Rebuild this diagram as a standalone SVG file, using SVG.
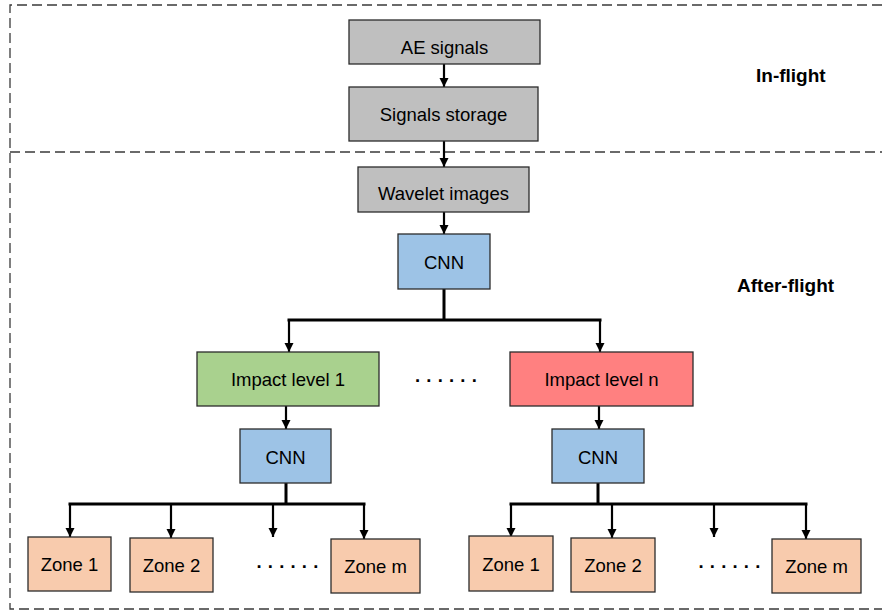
<svg xmlns="http://www.w3.org/2000/svg" width="882" height="612" viewBox="0 0 882 612">
<defs>
<style>
.box{stroke:#2b2b2b;stroke-width:1.3}
.gray{fill:#bfbfbf}
.blue{fill:#9dc3e6}
.green{fill:#a9d18e}
.red{fill:#ff8080}
.peach{fill:#f8cbad}
.t{font-family:"Liberation Sans",Arial,sans-serif;font-size:18.5px;fill:#000;text-anchor:middle}
.lbl{font-family:"Liberation Sans",Arial,sans-serif;font-size:19px;font-weight:bold;fill:#000}
.dots{font-family:"Liberation Sans",Arial,sans-serif;font-size:18.5px;font-weight:bold;fill:#000;letter-spacing:6.2px}
.border{fill:none;stroke:#3a3a3a;stroke-width:1.3;stroke-dasharray:10 5}
.ca{fill:none;stroke:#000;stroke-width:2.2;marker-end:url(#ah)}
.bus{fill:none;stroke:#000;stroke-width:3}
</style>
<marker id="ah" markerUnits="userSpaceOnUse" markerWidth="10" markerHeight="10" refX="9" refY="4.5" orient="auto">
<path d="M0,0 L9,4.5 L0,9 z" fill="#000"/>
</marker>
</defs>
<rect width="882" height="612" fill="#fff"/>
<g id="frame">
<path class="border" d="M882,5 H10 V609 H882"/>
<path class="border" d="M10,152 H882"/>
</g>
<g id="connectors">
<line class="ca" x1="444" y1="64" x2="444" y2="87"/>
<line class="ca" x1="444" y1="141" x2="444" y2="167"/>
<line class="ca" x1="444" y1="212" x2="444" y2="234"/>
<path class="bus" d="M444,289 V320 M287.5,320 H601.5"/>
<line class="ca" x1="289" y1="320" x2="289" y2="352"/>
<line class="ca" x1="600" y1="320" x2="600" y2="352"/>
<line class="ca" x1="286" y1="406" x2="286" y2="429"/>
<line class="ca" x1="599" y1="406" x2="599" y2="429"/>
<path class="bus" d="M286,483 V504 M68.5,504 H365.5"/>
<line class="ca" x1="70" y1="504" x2="70" y2="537"/>
<line class="ca" x1="171" y1="504" x2="171" y2="538"/>
<line class="ca" x1="273" y1="504" x2="273" y2="537"/>
<line class="ca" x1="364" y1="504" x2="364" y2="539"/>
<path class="bus" d="M598,483 V504 M509.5,504 H807.5"/>
<line class="ca" x1="511" y1="504" x2="511" y2="537"/>
<line class="ca" x1="612" y1="504" x2="612" y2="538"/>
<line class="ca" x1="714" y1="504" x2="714" y2="537"/>
<line class="ca" x1="806" y1="504" x2="806" y2="539"/>
</g>
<g id="ae-signals"><rect class="box gray" x="349" y="20" width="191" height="44"/><text class="t" x="444.5" y="54">AE signals</text></g>
<g id="signals-storage"><rect class="box gray" x="349" y="87" width="189" height="54"/><text class="t" x="443.5" y="120.5">Signals storage</text></g>
<g id="wavelet-images"><rect class="box gray" x="358" y="167" width="171" height="45"/><text class="t" x="443.5" y="200">Wavelet images</text></g>
<g id="cnn-top"><rect class="box blue" x="398" y="234" width="92" height="55"/><text class="t" x="444" y="269">CNN</text></g>
<g id="impact-1"><rect class="box green" x="197" y="352" width="182" height="54"/><text class="t" x="288" y="385.7">Impact level 1</text></g>
<g id="impact-n"><rect class="box red" x="510" y="352" width="183" height="54"/><text class="t" x="601.5" y="385.7">Impact level n</text></g>
<g id="dots-mid"><text class="dots" x="415" y="382">......</text></g>
<g id="cnn-left"><rect class="box blue" x="240" y="429" width="91" height="54"/><text class="t" x="285.5" y="464">CNN</text></g>
<g id="cnn-right"><rect class="box blue" x="552" y="429" width="92" height="54"/><text class="t" x="598" y="464">CNN</text></g>
<g id="zone1-left"><rect class="box peach" x="28" y="537" width="83" height="54"/><text class="t" x="69.5" y="570.7">Zone 1</text></g>
<g id="zone2-left"><rect class="box peach" x="130" y="538" width="83" height="54"/><text class="t" x="171.5" y="571.7">Zone 2</text></g>
<g id="dots-left"><text class="dots" x="256.5" y="567.5">......</text></g>
<g id="zonem-left"><rect class="box peach" x="331" y="539" width="89" height="54"/><text class="t" x="375.5" y="572.7">Zone m</text></g>
<g id="zone1-right"><rect class="box peach" x="469" y="536" width="84" height="55"/><text class="t" x="511" y="570.7">Zone 1</text></g>
<g id="zone2-right"><rect class="box peach" x="571" y="538" width="84" height="54"/><text class="t" x="613" y="571.7">Zone 2</text></g>
<g id="dots-right"><text class="dots" x="698.5" y="567.5">......</text></g>
<g id="zonem-right"><rect class="box peach" x="772" y="539" width="89" height="54"/><text class="t" x="816.5" y="572.7">Zone m</text></g>
<g id="label-inflight"><text class="lbl" x="756" y="81.7">In-flight</text></g>
<g id="label-afterflight"><text class="lbl" x="737" y="291.7">After-flight</text></g>
</svg>
